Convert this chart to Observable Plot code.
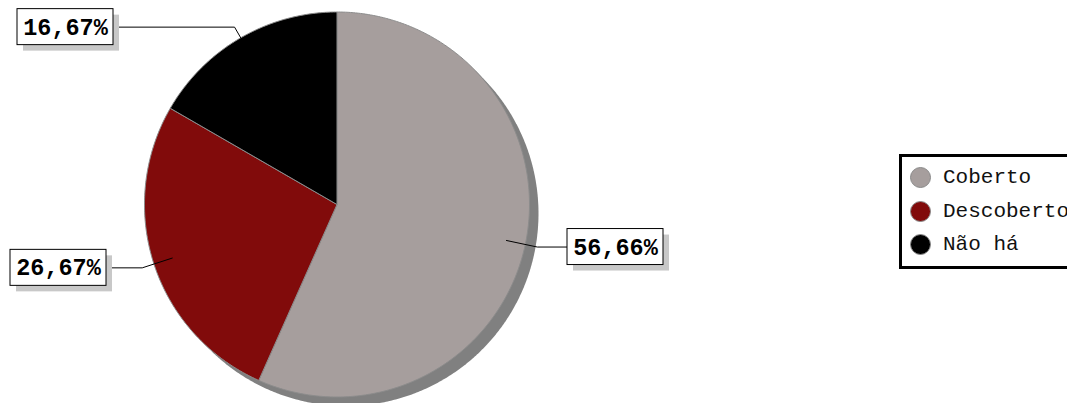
<!DOCTYPE html>
<html>
<head>
<meta charset="utf-8">
<script src="https://cdn.jsdelivr.net/npm/d3@7"></script>
<script src="https://cdn.jsdelivr.net/npm/@observablehq/plot@0.6"></script>
<style>
  html, body { margin: 0; padding: 0; background: #fff; overflow: hidden; }
  #wrap { position: relative; width: 1067px; height: 403px; overflow: hidden; }
  #legend { position: absolute; left: 899px; top: 154px; width: 200px; height: 109px;
            border: 3px solid #000; background: #fff; box-sizing: content-box; }
  .item { position: absolute; left: 8px; height: 22px; display: flex; align-items: center;
          font-family: "Liberation Mono", "Courier New", monospace; font-size: 21px; color: #111; }
  .sw { width: 21px; height: 21px; border-radius: 50%; box-sizing: border-box;
        border: 1px solid #8a8a8a; margin-right: 12px; }
</style>
</head>
<body>
<div id="wrap"></div>
<script>
// ---- data ----
const categories = ["Coberto", "Descoberto", "Não há"];
const values = [56.66, 26.67, 16.67];
const valueLabels = ["56,66%", "26,67%", "16,67%"];
const colors = ["#a69e9d", "#810b0b", "#000000"];

// ---- layout (pixels) ----
const W = 1067, H = 403;
const cx = 336.5, cy = 204, R = 192.5;
const boxW = 96, boxH = 36;
const labelBoxLeft = [567, 10, 17];

const total = d3.sum(values);
let acc = 0;
const slices = categories.map((c, i) => {
  const a0 = acc / total * 2 * Math.PI;
  acc += values[i];
  const a1 = acc / total * 2 * Math.PI;
  return {category: c, value: values[i], label: valueLabels[i], a0, a1, mid: (a0 + a1) / 2};
});
const pt = (a, r) => [cx + r * Math.sin(a), cy - r * Math.cos(a)];

// slice polygons
const slicePts = [];
for (const s of slices) {
  slicePts.push({category: s.category, x: cx, y: cy});
  const n = Math.max(2, Math.ceil((s.a1 - s.a0) / (Math.PI / 360)));
  for (let k = 0; k <= n; k++) {
    const a = s.a0 + (s.a1 - s.a0) * k / n;
    const [x, y] = pt(a, R);
    slicePts.push({category: s.category, x, y});
  }
  slicePts.push({category: s.category, x: cx, y: cy});
}
// shadow circle
const shadowPts = d3.range(0, 721).map(k => {
  const [x, y] = pt(k / 720 * 2 * Math.PI, R);
  return {x, y};
});

// leaders and boxes
const leaderPts = [];
const boxes = [];
slices.forEach((s, i) => {
  const [x0, y0] = pt(s.mid, R * 0.9);
  const [x1, y1] = pt(s.mid, R * 1.064);
  const left = labelBoxLeft[i];
  const right = Math.sin(s.mid) >= 0;
  const xe = right ? left : left + boxW;
  leaderPts.push({category: s.category, x: x0, y: y0});
  leaderPts.push({category: s.category, x: x1, y: y1});
  leaderPts.push({category: s.category, x: xe, y: y1});
  boxes.push({category: s.category, label: s.label, x1: left, x2: left + boxW, y1: y1 - boxH / 2, y2: y1 + boxH / 2, xc: left + boxW / 2, yc: y1});
});

const chart = Plot.plot({
  width: W, height: H,
  margin: 0,
  x: {domain: [0, W], range: [0, W], axis: null},
  y: {domain: [0, H], range: [0, H], axis: null},
  color: {domain: categories, range: colors},
  marks: [
    Plot.line(shadowPts, {x: "x", y: "y", fill: "#808080", stroke: "none", dx: 9, dy: 9}),
    Plot.line(slicePts, {x: "x", y: "y", z: "category", fill: "category", stroke: "#8c8c8c", strokeWidth: 1, strokeLinejoin: "round"}),
    Plot.line(leaderPts, {x: "x", y: "y", z: "category", stroke: "#000", strokeWidth: 1}),
    Plot.rect(boxes, {x1: "x1", x2: "x2", y1: "y1", y2: "y2", fill: "#c8c8c8", dx: 6, dy: 6}),
    Plot.rect(boxes, {x1: "x1", x2: "x2", y1: "y1", y2: "y2", fill: "#fff", stroke: "#000", strokeWidth: 1}),
    Plot.text(boxes, {x: "xc", y: "yc", text: "label", fontFamily: "Liberation Mono", fontWeight: "bold", fontSize: 23.5, fill: "#000"})
  ]
});
const wrap = document.getElementById("wrap");
wrap.appendChild(chart);

// legend
const legend = document.createElement("div");
legend.id = "legend";
const itemTops = [9, 43, 76];
categories.forEach((c, i) => {
  const it = document.createElement("div");
  it.className = "item";
  it.style.top = itemTops[i] + "px";
  const sw = document.createElement("span");
  sw.className = "sw";
  sw.style.background = colors[i];
  const tx = document.createElement("span");
  tx.textContent = c;
  it.appendChild(sw);
  it.appendChild(tx);
  legend.appendChild(it);
});
wrap.appendChild(legend);
</script>
</body>
</html>
